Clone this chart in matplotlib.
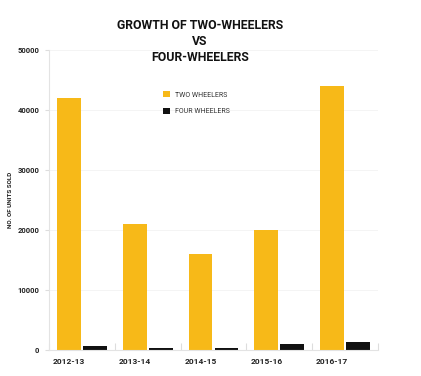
import matplotlib
matplotlib.use("Agg")
import matplotlib.pyplot as plt
import numpy as np

categories = ["2012-13", "2013-14", "2014-15", "2015-16", "2016-17"]
two_wheelers = [42000, 21000, 16000, 20000, 44000]
four_wheelers = [700, 350, 350, 1000, 1400]
series_names = ["TWO WHEELERS", "FOUR WHEELERS"]
yticks = [0, 10000, 20000, 30000, 40000, 50000]

plt.rcParams['font.family'] = ['Roboto', 'DejaVu Sans']

fig = plt.figure(figsize=(4.21, 3.76), dpi=100)
ax = fig.add_axes([49/421, 26/376, (378-49)/421, 300/376])

x = np.arange(len(categories))
w = 0.36
off = 0.197
yellow = "#F7B918"
black = "#111111"
ax.bar(x - off, two_wheelers, w, color=yellow, label=series_names[0], zorder=2)
ax.bar(x + off, four_wheelers, w, color=black, label=series_names[1], zorder=2)

ax.set_xlim(-0.5, 4.5)
ax.set_ylim(0, 50000)
ax.set_yticks(yticks)
ax.set_yticklabels([str(v) for v in yticks], fontsize=5.5, fontweight='bold', color='#222222')
ax.set_xticks(x - off)
ax.set_xticklabels(categories, fontsize=6, fontweight='bold', color='#222222')
ax.set_xticks(np.arange(-0.5, 5, 1), minor=True)
ax.tick_params(axis='x', which='major', length=0, pad=6)
ax.tick_params(axis='x', which='minor', direction='in', length=5, color='#dddddd', width=0.8)
ax.tick_params(axis='y', length=3, color='#dddddd', width=0.8, pad=4)

for s in ['top', 'right']:
    ax.spines[s].set_visible(False)
for s in ['left', 'bottom']:
    ax.spines[s].set_color('#e3e3e3')
    ax.spines[s].set_linewidth(0.8)
ax.yaxis.grid(True, color='#f3f3f3', linewidth=0.6, zorder=0)
ax.set_axisbelow(True)

ax.set_ylabel("NO. OF UNITS SOLD", fontsize=4.5, fontweight='bold', color='#222222')
ax.yaxis.set_label_coords(-0.108, 0.5)

fig.text(200/421, 1 - 41.5/376, "GROWTH OF TWO-WHEELERS\nVS\nFOUR-WHEELERS",
         ha='center', va='center', fontsize=8.8, fontweight='bold', linespacing=1.3, color='#111111')

leg = ax.legend(loc='upper left', bbox_to_anchor=((157-49)/329, (350-85)/300), frameon=False,
                fontsize=5, handlelength=0.95, handleheight=0.95, labelspacing=1.3, handletextpad=0.8)
for t in leg.get_texts():
    t.set_color('#333333')

fig.savefig("out.png", dpi=100)
